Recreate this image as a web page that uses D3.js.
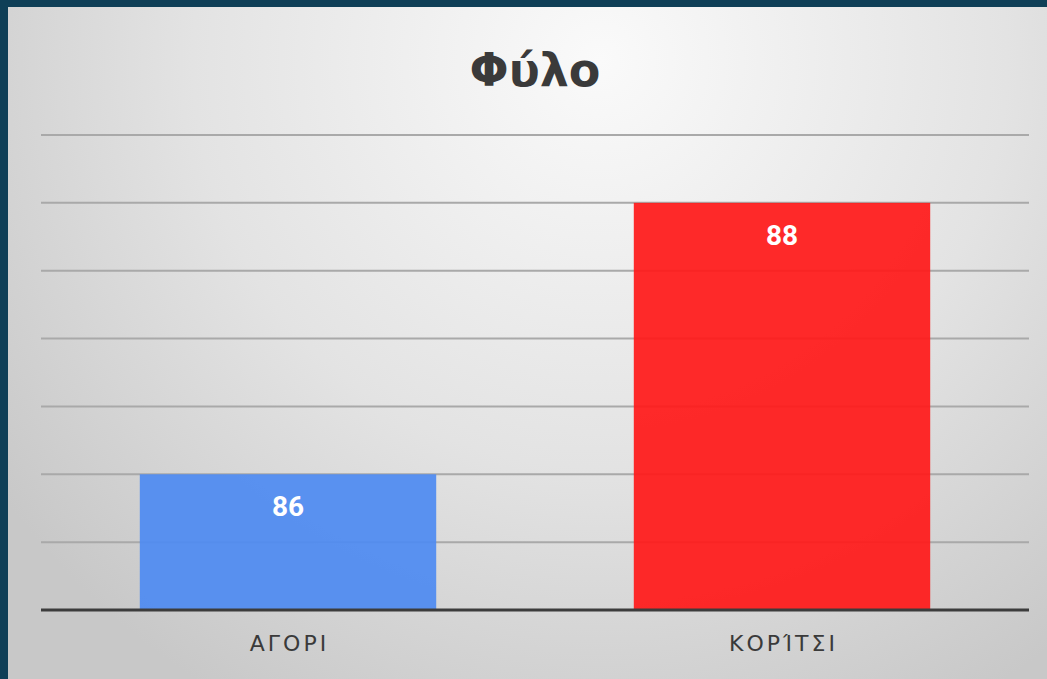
<!DOCTYPE html>
<html>
<head>
<meta charset="utf-8">
<script src="https://cdn.jsdelivr.net/npm/d3@7"></script>
<style>
  html, body { margin: 0; padding: 0; background: #0f3f57; }
  svg { display: block; }
</style>
</head>
<body>
<div id="chart"></div>
<script>
var categories = ['ΑΓΟΡΙ', 'ΚΟΡΊΤΣΙ'];
var values = [86, 88];
var barColors = ['#4f8bf1', '#ff1a1a'];
var gridTicks = [85.5, 86, 86.5, 87, 87.5, 88, 88.5];
var title = 'Φύλο';

var width = 1047, height = 679;
var margin = {top: 135, right: 18, bottom: 69, left: 41};

var svg = d3.select('#chart').append('svg')
  .attr('width', width)
  .attr('height', height);

var defs = svg.append('defs');

var grad = defs.append('radialGradient')
  .attr('id', 'bg')
  .attr('gradientUnits', 'userSpaceOnUse')
  .attr('cx', 600).attr('cy', 60)
  .attr('r', 740);
grad.append('stop').attr('offset', '0%').attr('stop-color', '#fafafa');
grad.append('stop').attr('offset', '55%').attr('stop-color', '#e3e3e3');
grad.append('stop').attr('offset', '100%').attr('stop-color', '#c8c8c8');

// dark frame behind, then the chart panel
svg.append('rect')
  .attr('width', width).attr('height', height)
  .attr('fill', '#0f3f57');

svg.append('rect')
  .attr('x', 8).attr('y', 7)
  .attr('width', width - 8).attr('height', height - 7)
  .attr('fill', 'url(#bg)');

var x = d3.scaleBand()
  .domain(categories)
  .range([margin.left, width - margin.right])
  .paddingInner(0.4)
  .paddingOuter(0.2);

var y = d3.scaleLinear()
  .domain([85, 88.5])
  .range([height - margin.bottom, margin.top]);

// gridlines
svg.append('g')
  .selectAll('line')
  .data(gridTicks)
  .enter().append('line')
  .attr('x1', margin.left)
  .attr('x2', width - margin.right)
  .attr('y1', function (d) { return y(d); })
  .attr('y2', function (d) { return y(d); })
  .attr('stroke', '#a9a9a9')
  .attr('stroke-width', 2);

// bars
svg.append('g')
  .selectAll('rect')
  .data(values)
  .enter().append('rect')
  .attr('x', function (d, i) { return x(categories[i]); })
  .attr('y', function (d) { return y(d); })
  .attr('width', x.bandwidth())
  .attr('height', function (d) { return y(85) - y(d); })
  .attr('fill', function (d, i) { return barColors[i]; })
  .attr('fill-opacity', 0.93);

// value labels
svg.append('g')
  .selectAll('text')
  .data(values)
  .enter().append('text')
  .attr('x', function (d, i) { return x(categories[i]) + x.bandwidth() / 2; })
  .attr('y', function (d) { return y(d) + 42; })
  .attr('text-anchor', 'middle')
  .attr('fill', '#ffffff')
  .attr('font-family', 'Roboto')
  .attr('font-weight', 700)
  .attr('font-size', 28)
  .text(function (d) { return d; });

// baseline
svg.append('line')
  .attr('x1', margin.left)
  .attr('x2', width - margin.right)
  .attr('y1', y(85))
  .attr('y2', y(85))
  .attr('stroke', '#3c3c3c')
  .attr('stroke-width', 3);

// x axis labels
var xAxis = svg.append('g')
  .attr('transform', 'translate(1.5,' + y(85) + ')')
  .call(d3.axisBottom(x).tickSize(0).tickPadding(25));
xAxis.select('.domain').remove();
xAxis.selectAll('text')
  .attr('font-family', '"DejaVu Sans", sans-serif')
  .attr('font-size', 22)
  .attr('letter-spacing', 3)
  .attr('fill', '#3a3a3a');

// title
svg.append('text')
  .attr('x', 535)
  .attr('y', 86)
  .attr('text-anchor', 'middle')
  .attr('font-family', '"DejaVu Sans", sans-serif')
  .attr('font-weight', 'bold')
  .attr('font-size', 46)
  .attr('fill', '#3a3a3a')
  .text(title);
</script>
</body>
</html>
